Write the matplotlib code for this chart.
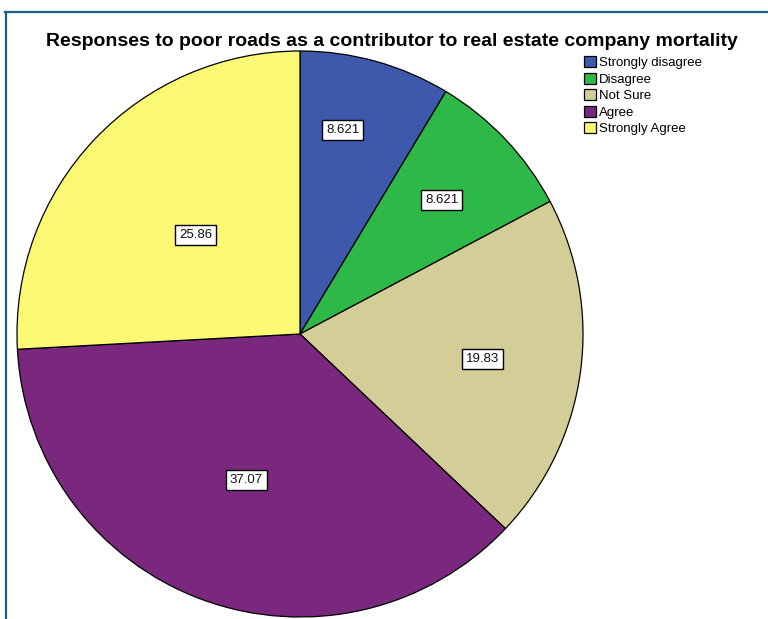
import numpy as np
import matplotlib
matplotlib.use("Agg")
from matplotlib import pyplot as plt
from matplotlib.lines import Line2D

plt.rcParams['font.family'] = ['Liberation Sans', 'DejaVu Sans']

# response shares (%)
categories = ["Strongly disagree", "Disagree", "Not Sure", "Agree", "Strongly Agree"]
shares = [8.621, 8.621, 19.83, 37.07, 25.86]
share_labels = ["8.621", "8.621", "19.83", "37.07", "25.86"]

colors = ["#3e58ac", "#2eb848", "#d3ce97", "#79287d", "#fbf873"]
# where each value box sits: fraction of radius, and how far along the wedge (0 = start)
label_r = [0.736, 0.69, 0.65, 0.548, 0.508]
label_t = [0.38, 0.5, 0.5, 0.5, 0.5]

W, H = 768, 619
fig = plt.figure(figsize=(W / 100, H / 100), dpi=100)

# thin frame around the chart area
fig.add_artist(Line2D([5 / W, 1], [1 - 12 / H, 1 - 12 / H], color="#1f5f86", lw=1.6))
fig.add_artist(Line2D([6 / W, 6 / W], [0, 1 - 12 / H], color="#1f5f86", lw=1.6))

cx, cy, r = 300, 334, 283
ax = fig.add_axes([(cx - r) / W, (H - cy - r) / H, 2 * r / W, 2 * r / H])

wedges, _ = ax.pie(shares, colors=colors, startangle=90, counterclock=False,
                   wedgeprops=dict(edgecolor="black", linewidth=0.9))
ax.set_xlim(-1, 1)
ax.set_ylim(-1, 1)
ax.set_aspect("auto")
ax.axis("off")

for w, txt, fr, ft in zip(wedges, share_labels, label_r, label_t):
    # clockwise pie: theta2 is where the wedge starts
    ang = np.deg2rad(w.theta2 - ft * (w.theta2 - w.theta1))
    ax.text(fr * np.cos(ang), fr * np.sin(ang), txt, ha="center", va="center",
            fontsize=9.5, color="#111111",
            bbox=dict(boxstyle="square,pad=0.3", fc="white", ec="black", lw=1.0))

fig.text(392 / W, 1 - 41 / H,
         "Responses to poor roads as a contributor to real estate company mortality",
         ha="center", va="center", fontsize=14, fontweight="bold")

fig.legend(wedges, categories, loc="upper left", bbox_to_anchor=(584 / W, 1 - 56 / H),
           frameon=False, fontsize=9.5, handlelength=0.9, handleheight=0.9,
           handletextpad=0.25, labelspacing=0.27, borderpad=0, borderaxespad=0)

fig.savefig("out.png", dpi=100)
